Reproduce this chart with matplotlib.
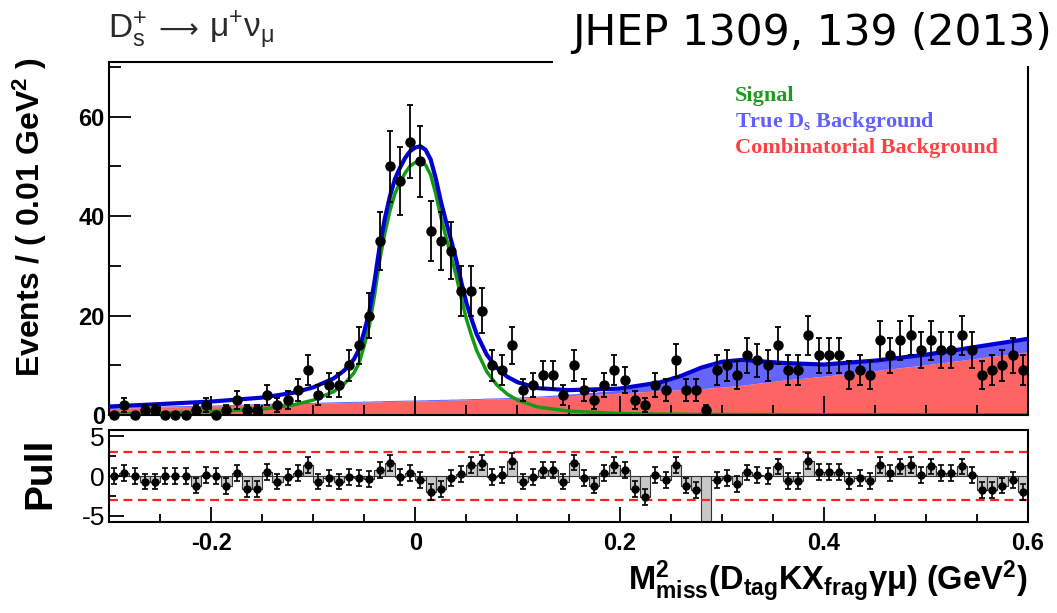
import numpy as np
import matplotlib
matplotlib.use("Agg")
import matplotlib.pyplot as plt
from matplotlib.patches import Rectangle
from matplotlib.ticker import MultipleLocator, FixedLocator

plt.rcParams['font.family'] = ['Liberation Sans', 'DejaVu Sans']
plt.rcParams['font.weight'] = 'bold'
plt.rcParams['mathtext.default'] = 'regular'
plt.rcParams['axes.unicode_minus'] = False

# istogramma: bin da 0.01 GeV^2 tra -0.3 e 0.6
bin_lo = -0.30
bin_w = 0.01
counts = [0, 2, 0, 1, 1, 0, 0, 0, 1, 2,
          0, 1, 3, 1, 1, 4, 2, 3, 5, 9,
          4, 6, 6, 10, 14, 20, 35, 50, 47, 55,
          51, 37, 35, 33, 25, 25, 21, 10, 9, 14,
          5, 6, 8, 8, 4, 10, 5, 3, 6, 9,
          7, 3, 2, 6, 5, 11, 5, 5, 1, 9,
          10, 8, 12, 11, 10, 14, 9, 9, 16, 12,
          12, 12, 8, 9, 8, 15, 12, 15, 16, 13,
          15, 13, 13, 16, 13, 8, 9, 10, 12, 9]

pulls = [0, 0.35, 0, -0.7, -0.7, 0, 0, 0, -1.2, 0.1,
         0, -1.3, 0.35, -1.6, -1.6, 0.55, -0.7, -0.1, 0.35, 1.4,
         -0.7, -0.3, -0.7, -0.1, -0.3, -0.4, 0.8, 1.65, -0.1, 0.35,
         -0.5, -2.0, -1.6, -0.3, 0.25, 1.4, 1.7, -0.1, 0.1, 1.9,
         -0.7, -0.1, 0.8, 0.8, -0.7, 1.7, -0.3, -1.2, 0.35, 1.4,
         0.8, -1.6, -2.6, 0.1, -0.5, 1.4, -1.2, -1.8, -8.0, -0.5,
         -0.2, -1.0, 0.45, 0.1, 0.0, 1.2, -0.6, -0.6, 1.9, 0.55,
         0.55, 0.55, -0.6, -0.3, -0.6, 1.4, 0.35, 1.2, 1.4, 0.1,
         1.2, 0.35, 0.35, 1.2, 0.1, -1.8, -1.8, -1.2, -0.5, -2.0]

# componenti del fit
curve_x = [-0.30, -0.25, -0.20, -0.15, -0.12, -0.10, -0.08, -0.07, -0.065, -0.06,
           -0.055, -0.05, -0.045, -0.04, -0.035, -0.03, -0.025, -0.02, -0.015, -0.01,
           -0.005, 0.0, 0.005, 0.01, 0.015, 0.02, 0.025, 0.03, 0.035, 0.04,
           0.045, 0.05, 0.055, 0.06, 0.07, 0.08, 0.09, 0.10, 0.12, 0.15,
           0.20, 0.24, 0.26, 0.28, 0.30, 0.32, 0.34, 0.36, 0.40, 0.45,
           0.50, 0.55, 0.60]
signal_curve = [0.2, 0.4, 0.7, 1.2, 2.0, 3.0, 4.7, 6.2, 7.3, 8.5,
                10.5, 14, 18, 24, 31, 36.5, 41, 44.5, 46.8, 48.7,
                50.1, 50.8, 51.0, 50.3, 48.3, 44.5, 39.8, 35.8, 32, 28,
                23.5, 19.3, 16, 13, 8.7, 6, 4.2, 3.0, 1.6, 0.8,
                0.3, 0.18, 0.15, 0.12, 0.1, 0.09, 0.08, 0.07, 0.05, 0.04,
                0.03, 0.03, 0.02]
trueds_curve = [0.2, 0.2, 0.2, 0.2, 0.2, 0.2, 0.2, 0.2, 0.2, 0.2,
                0.2, 0.2, 0.2, 0.2, 0.2, 0.2, 0.2, 0.2, 0.2, 0.2,
                0.2, 0.2, 0.2, 0.2, 0.2, 0.2, 0.2, 0.2, 0.2, 0.2,
                0.2, 0.2, 0.2, 0.2, 0.2, 0.2, 0.2, 0.2, 0.2, 0.3,
                0.6, 1.5, 2.6, 4.1, 5.0, 5.0, 4.2, 3.4, 2.3, 2.0,
                2.0, 2.3, 2.6]
comb_curve = [1.3, 1.6, 1.8, 2.1, 2.25, 2.35, 2.45, 2.5, 2.5, 2.55,
              2.55, 2.6, 2.6, 2.65, 2.65, 2.7, 2.7, 2.75, 2.75, 2.8,
              2.8, 2.8, 2.85, 2.85, 2.9, 2.9, 2.95, 2.95, 3.0, 3.0,
              3.05, 3.05, 3.1, 3.1, 3.2, 3.25, 3.3, 3.4, 3.6, 3.9,
              4.4, 4.9, 5.1, 5.3, 5.6, 6.0, 6.5, 7.0, 7.8, 8.9,
              10.1, 11.4, 12.7]

xtick_pos = [-0.2, 0.0, 0.2, 0.4, 0.6]
xtick_labels = ['-0.2', '0', '0.2', '0.4', '0.6']
ytick_pos = [0, 20, 40, 60]
ytick_labels = ['0', '20', '40', '60']
pull_tick_pos = [-5, 0, 5]
pull_tick_labels = ['-5', '0', '5']

# =========================
# PREPARAZIONE
# =========================
counts = np.array(counts, dtype=float)
pulls = np.array(pulls)
x_centers = bin_lo + bin_w * (np.arange(len(counts)) + 0.5)
errors = np.sqrt(counts)

cx = np.array(curve_x)
sig = np.array(signal_curve)
tds = np.array(trueds_curve)
comb = np.array(comb_curve)
total = sig + tds + comb

W, H = 1057, 613
fig = plt.figure(figsize=(W / 100, H / 100), dpi=100)

def fx(px):
    return px / W

def fy(py):
    return 1 - py / H

ax = fig.add_axes([fx(109), fy(415), fx(1028) - fx(109), fy(62) - fy(415)])
axp = fig.add_axes([fx(109), fy(522), fx(1028) - fx(109), fy(430) - fy(522)])

# =========================
# PANNELLO PRINCIPALE
# =========================
ax.fill_between(cx, 0, comb, color='#ff6464', lw=0, zorder=1)
ax.fill_between(cx, comb, comb + tds, color='#6464ff', lw=0, zorder=1)
ax.plot(cx, sig, color='#129a12', lw=2.5, zorder=2)
ax.plot(cx, total, color='#0000d0', lw=3, zorder=3)
ax.errorbar(x_centers, counts, yerr=errors, fmt='o', color='black', ms=6.5,
            capsize=2.5, elinewidth=1.3, capthick=1.3, zorder=4, clip_on=False)

ax.set_xlim(-0.3, 0.6)
ax.set_ylim(0, 71)
ax.xaxis.set_major_locator(FixedLocator(xtick_pos))
ax.xaxis.set_minor_locator(MultipleLocator(0.05))
ax.yaxis.set_major_locator(FixedLocator(ytick_pos))
ax.yaxis.set_minor_locator(MultipleLocator(10))
ax.set_yticklabels(ytick_labels)
ax.tick_params(axis='x', which='both', labelbottom=False)
ax.tick_params(which='both', direction='in', top=False, right=False, width=1.3)
ax.tick_params(axis='y', which='major', length=16, labelsize=17, pad=3)
ax.tick_params(axis='y', which='minor', length=8.5)
ax.tick_params(axis='x', which='major', length=14)
ax.tick_params(axis='x', which='minor', length=7)
for s in ax.spines.values():
    s.set_linewidth(1.5)

# =========================
# PANNELLO PULL
# =========================
axp.bar(x_centers, pulls, width=bin_w, color='#c8c8c8', edgecolor='#333333', lw=0.8, zorder=1)
axp.axhline(3, color='#ff2020', ls=(0, (4, 2.5)), lw=1.6, zorder=2)
axp.axhline(-3, color='#ff2020', ls=(0, (4, 2.5)), lw=1.6, zorder=2)
axp.errorbar(x_centers, pulls, yerr=np.ones_like(pulls), fmt='o', color='black', ms=5,
             capsize=2.2, elinewidth=1.2, capthick=1.2, zorder=3)

axp.set_xlim(-0.3, 0.6)
axp.set_ylim(-5.8, 5.8)
axp.xaxis.set_major_locator(FixedLocator(xtick_pos))
axp.set_xticklabels(xtick_labels)
axp.xaxis.set_minor_locator(MultipleLocator(0.05))
axp.yaxis.set_major_locator(FixedLocator(pull_tick_pos))
axp.set_yticklabels(pull_tick_labels, fontweight='normal')
axp.yaxis.set_minor_locator(MultipleLocator(2.5))
axp.tick_params(which='both', direction='in', top=False, right=False, width=1.3)
axp.tick_params(axis='x', which='major', length=11, labelsize=17, pad=7)
axp.tick_params(axis='x', which='minor', length=5.5)
axp.tick_params(axis='y', which='major', length=11, labelsize=19, pad=3)
axp.tick_params(axis='y', which='minor', length=5)
for s in axp.spines.values():
    s.set_linewidth(1.5)

# =========================
# TESTI
# =========================
fig.text(fx(30), fy(217), 'Events / ( 0.01 GeV$^{2}$ )', rotation=90,
         ha='center', va='center', fontsize=23)
fig.text(fx(40), fy(473), 'Pull', rotation=90, ha='center', va='center', fontsize=28)
fig.text(fx(1027), fy(582), r'$M^{2}_{miss}(D_{tag}KX_{frag}\gamma\mu)$ (GeV$^{2}$)',
         ha='right', va='center', fontsize=23.5)

# titolo del canale, in tre pezzi (la freccia viene da DejaVu)
title_kw = dict(va='baseline', fontsize=24, fontweight='normal', color='#2a2a2a')
fig.text(fx(108), fy(38), r'$D_{s}^{+}$', ha='left', **title_kw)
fig.text(fx(158), fy(38), '⟶', ha='left', family='DejaVu Sans',
         va='baseline', fontsize=20, fontweight='normal', color='#2a2a2a')
fig.text(fx(209), fy(38), r'$\mu^{+}\nu_{\mu}$', ha='left', **title_kw)

fig.patches.append(Rectangle((fx(553), fy(66)), fx(W) - fx(553), fy(0) - fy(66),
                             transform=fig.transFigure, facecolor='white',
                             edgecolor='none', zorder=10))
fig.text(fx(572), fy(45), 'JHEP 1309, 139 (2013)', ha='left', va='baseline',
         fontsize=30.5, fontweight='normal', family='DejaVu Sans', color='black', zorder=11)

leg_font = dict(family='Liberation Serif', fontsize=16, fontweight='bold', va='center', ha='left')
fig.text(fx(735), fy(96), 'Signal', color='#1e9a1e', **leg_font)
fig.text(fx(735), fy(122), 'True D$_{s}$ Background', color='#6060ff', **leg_font)
fig.text(fx(735), fy(148), 'Combinatorial Background', color='#ff4040', **leg_font)

fig.savefig('out.png', dpi=100)
